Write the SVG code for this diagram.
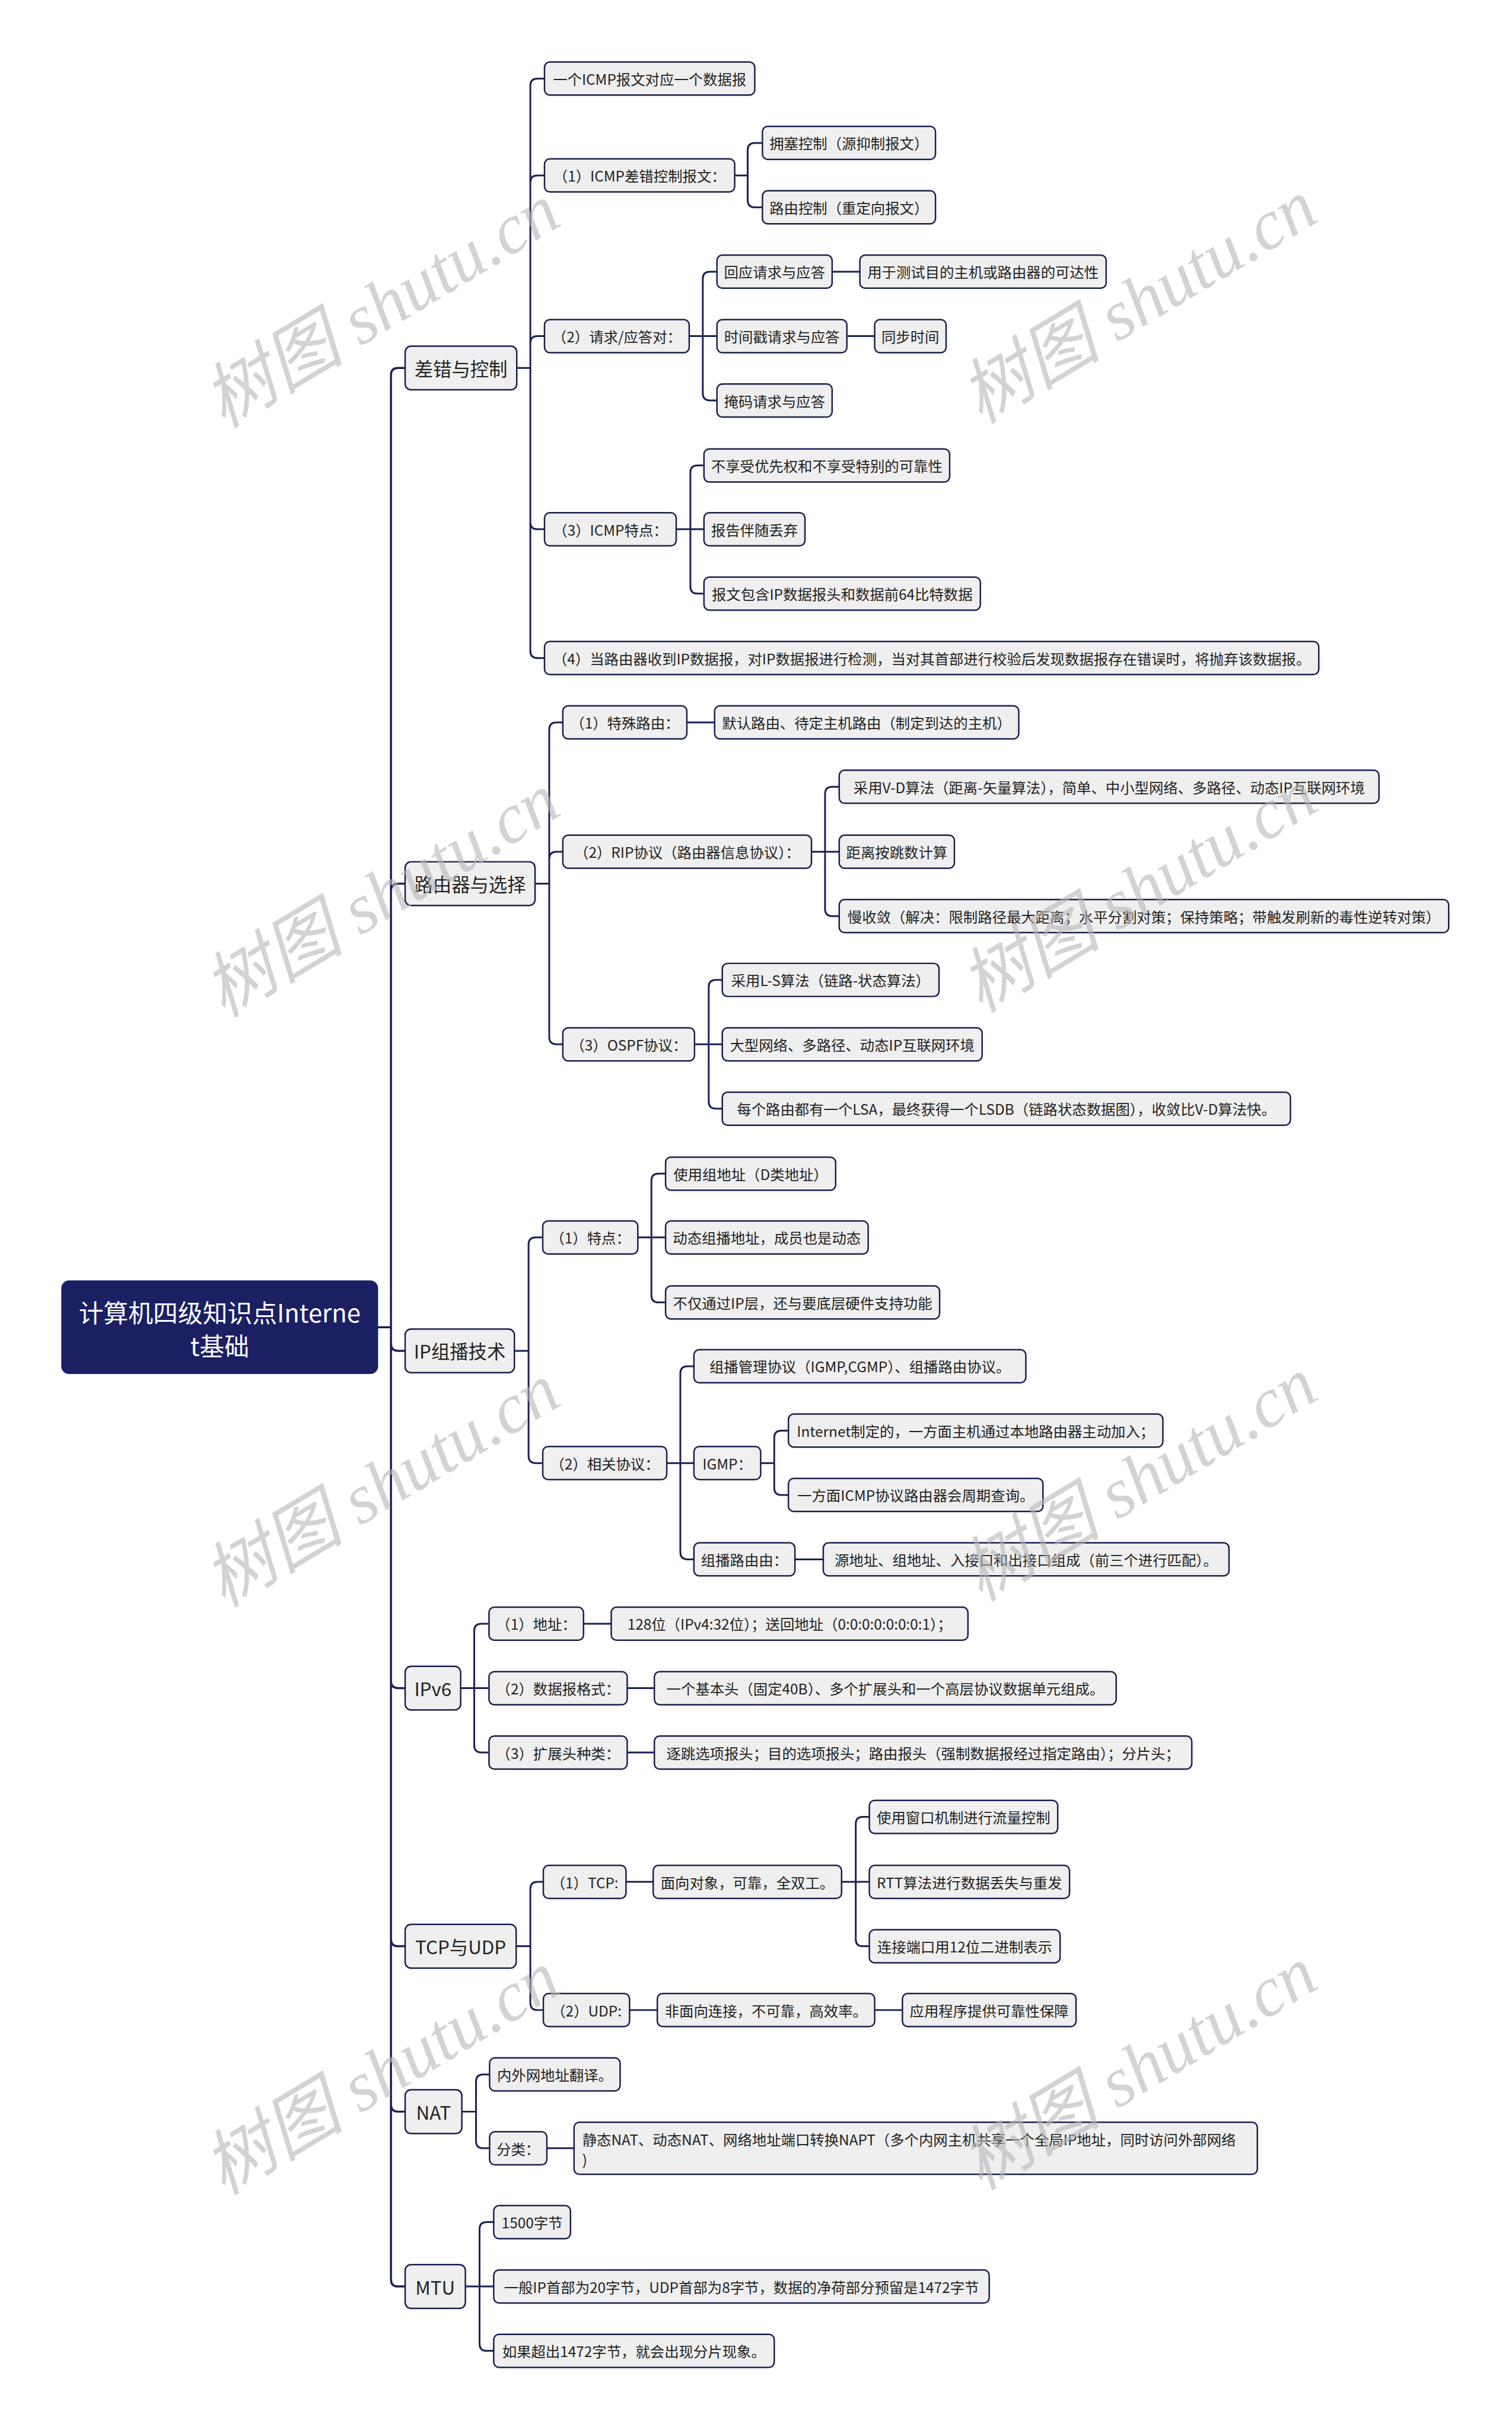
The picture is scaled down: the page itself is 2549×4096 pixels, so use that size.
<svg xmlns="http://www.w3.org/2000/svg" width="2549" height="4096" viewBox="0 0 2549 4096">
<style>
.n rect{fill:#efefef;stroke:#1b1f4d;stroke-width:2.5}
.n text{font-family:"Noto Sans CJK SC","Liberation Sans",sans-serif;font-size:24.5px;fill:#222;text-anchor:middle;dominant-baseline:central}
.l1 text{font-size:31.5px}
.root rect{fill:#1b2063;stroke:#1b2063}
.root text{fill:#fff;font-size:42px}
.c path{fill:none;stroke:#1b2058;stroke-width:3;stroke-linecap:round}
.c .m{stroke-width:3.5}
.wm text{font-family:"Liberation Serif","Noto Sans CJK SC",serif;font-style:italic;font-size:120px;fill:#b5b5b5;fill-opacity:0.6;text-anchor:middle;dominant-baseline:central}
</style>
<rect width="2549" height="4096" fill="#ffffff"/>
<g transform="scale(0.99563)">
<g id="connectors" class="c">
<path class="m" d="M639 2247 H662 M662 2247 V635 Q662 623 674 623 H686 M662 2247 V1508 Q662 1496 674 1496 H686 M662 2247 V2275 Q662 2287 674 2287 H686 M662 2247 V2846 Q662 2858 674 2858 H686 M662 2247 V3283 Q662 3295 674 3295 H686 M662 2247 V3563 Q662 3575 674 3575 H686 M662 2247 V3859 Q662 3871 674 3871 H686"/>
<path d="M875 623 H898 M898 623 V145 Q898 133 910 133 H922 M898 623 V309 Q898 297 910 297 H922 M898 623 V581 Q898 569 910 569 H922 M898 623 V884 Q898 896 910 896 H922 M898 623 V1102 Q898 1114 910 1114 H922"/>
<path d="M1244 297 H1266 M1266 297 V254 Q1266 242 1278 242 H1291 M1266 297 V339 Q1266 351 1278 351 H1291"/>
<path d="M1167 569 H1190 M1190 569 V472 Q1190 460 1202 460 H1214 M1190 569 H1214 M1190 569 V666 Q1190 678 1202 678 H1214 M1409 460 H1456 M1434 569 H1481"/>
<path d="M1145 896 H1169 M1169 896 V800 Q1169 788 1181 788 H1192 M1169 896 H1192 M1169 896 V993 Q1169 1005 1181 1005 H1192"/>
<path d="M906 1496 H930 M930 1496 V1235 Q930 1223 942 1223 H953 M930 1496 V1454 Q930 1442 942 1442 H953 M930 1496 V1756 Q930 1768 942 1768 H953 M1163 1223 H1210"/>
<path d="M1374 1442 H1397 M1397 1442 V1344 Q1397 1332 1409 1332 H1421 M1397 1442 H1421 M1397 1442 V1539 Q1397 1551 1409 1551 H1421"/>
<path d="M1176 1768 H1200 M1200 1768 V1671 Q1200 1659 1212 1659 H1223 M1200 1768 H1223 M1200 1768 V1865 Q1200 1877 1212 1877 H1223"/>
<path d="M871 2287 H895 M895 2287 V2107 Q895 2095 907 2095 H919 M895 2287 V2465 Q895 2477 907 2477 H919"/>
<path d="M1080 2095 H1103 M1103 2095 V1999 Q1103 1987 1115 1987 H1127 M1103 2095 H1127 M1103 2095 V2193 Q1103 2205 1115 2205 H1127"/>
<path d="M1129 2477 H1152 M1152 2477 V2325 Q1152 2313 1164 2313 H1175 M1152 2477 H1175 M1152 2477 V2628 Q1152 2640 1164 2640 H1175"/>
<path d="M1288 2477 H1311 M1311 2477 V2434 Q1311 2422 1323 2422 H1335 M1311 2477 V2519 Q1311 2531 1323 2531 H1335 M1346 2640 H1394"/>
<path d="M780 2858 H803 M803 2858 V2761 Q803 2749 815 2749 H828 M803 2858 H828 M803 2858 V2955 Q803 2967 815 2967 H828 M988 2749 H1035 M1062 2858 H1108 M1062 2967 H1108"/>
<path d="M874 3295 H898 M898 3295 V3198 Q898 3186 910 3186 H920 M898 3295 V3391 Q898 3403 910 3403 H920 M1060 3186 H1106 M1066 3403 H1113 M1481 3403 H1528"/>
<path d="M1425 3186 H1449 M1449 3186 V3088 Q1449 3076 1461 3076 H1472 M1449 3186 H1472 M1449 3186 V3283 Q1449 3295 1461 3295 H1472"/>
<path d="M782 3575 H806 M806 3575 V3524 Q806 3512 818 3512 H829 M806 3575 V3625 Q806 3637 818 3637 H829 M926 3637 H972"/>
<path d="M788 3871 H812 M812 3871 V3774 Q812 3762 824 3762 H836 M812 3871 H836 M812 3871 V3968 Q812 3980 824 3980 H836"/>
</g>
<g id="root" class="n root"><rect x="105" y="2169" width="534" height="156" rx="12"/><text x="372" y="2221">计算机四级知识点Interne</text><text x="372" y="2277">t基础</text></g>
<g id="n-err" class="n l1"><rect x="686" y="586" width="189" height="74" rx="10"/><text x="780.5" y="623">差错与控制</text></g>
<g id="n-route" class="n l1"><rect x="686" y="1459" width="220" height="74" rx="10"/><text x="796" y="1496">路由器与选择</text></g>
<g id="n-mc" class="n l1"><rect x="686" y="2250" width="185" height="74" rx="10"/><text x="778.5" y="2287">IP组播技术</text></g>
<g id="n-ipv6" class="n l1"><rect x="686" y="2821" width="94" height="74" rx="10"/><text x="733" y="2858">IPv6</text></g>
<g id="n-tcp" class="n l1"><rect x="686" y="3258" width="188" height="74" rx="10"/><text x="780" y="3295">TCP与UDP</text></g>
<g id="n-nat" class="n l1"><rect x="686" y="3538" width="96" height="74" rx="10"/><text x="734" y="3575">NAT</text></g>
<g id="n-mtu" class="n l1"><rect x="686" y="3834" width="102" height="74" rx="10"/><text x="737" y="3871">MTU</text></g>
<g id="a1" class="n"><rect x="922" y="105" width="356" height="56" rx="9"/><text x="1100" y="133">一个ICMP报文对应一个数据报</text></g>
<g id="a2" class="n"><rect x="922" y="269" width="322" height="56" rx="9"/><text x="1083" y="297">（1）ICMP差错控制报文：</text></g>
<g id="a2a" class="n"><rect x="1291" y="214" width="293" height="56" rx="9"/><text x="1437.5" y="242">拥塞控制（源抑制报文）</text></g>
<g id="a2b" class="n"><rect x="1291" y="323" width="293" height="56" rx="9"/><text x="1437.5" y="351">路由控制（重定向报文）</text></g>
<g id="a3" class="n"><rect x="922" y="541" width="245" height="56" rx="9"/><text x="1044.5" y="569">（2）请求/应答对：</text></g>
<g id="a3a" class="n"><rect x="1214" y="432" width="195" height="56" rx="9"/><text x="1311.5" y="460">回应请求与应答</text></g>
<g id="a3a1" class="n"><rect x="1456" y="432" width="417" height="56" rx="9"/><text x="1664.5" y="460">用于测试目的主机或路由器的可达性</text></g>
<g id="a3b" class="n"><rect x="1214" y="541" width="220" height="56" rx="9"/><text x="1324" y="569">时间戳请求与应答</text></g>
<g id="a3b1" class="n"><rect x="1481" y="541" width="121" height="56" rx="9"/><text x="1541.5" y="569">同步时间</text></g>
<g id="a3c" class="n"><rect x="1214" y="650" width="195" height="56" rx="9"/><text x="1311.5" y="678">掩码请求与应答</text></g>
<g id="a4" class="n"><rect x="922" y="868" width="223" height="56" rx="9"/><text x="1033.5" y="896">（3）ICMP特点：</text></g>
<g id="a4a" class="n"><rect x="1192" y="760" width="416" height="56" rx="9"/><text x="1400" y="788">不享受优先权和不享受特别的可靠性</text></g>
<g id="a4b" class="n"><rect x="1192" y="868" width="171" height="56" rx="9"/><text x="1277.5" y="896">报告伴随丢弃</text></g>
<g id="a4c" class="n"><rect x="1192" y="977" width="468" height="56" rx="9"/><text x="1426" y="1005">报文包含IP数据报头和数据前64比特数据</text></g>
<g id="a5" class="n"><rect x="922" y="1086" width="1311" height="56" rx="9"/><text x="1577.5" y="1114">（4）当路由器收到IP数据报，对IP数据报进行检测，当对其首部进行校验后发现数据报存在错误时，将抛弃该数据报。</text></g>
<g id="b1" class="n"><rect x="953" y="1195" width="210" height="56" rx="9"/><text x="1058" y="1223">（1）特殊路由：</text></g>
<g id="b1a" class="n"><rect x="1210" y="1195" width="515" height="56" rx="9"/><text x="1467.5" y="1223">默认路由、待定主机路由（制定到达的主机）</text></g>
<g id="b2" class="n"><rect x="953" y="1414" width="421" height="56" rx="9"/><text x="1163.5" y="1442">（2）RIP协议（路由器信息协议）：</text></g>
<g id="b2a" class="n"><rect x="1421" y="1304" width="914" height="56" rx="9"/><text x="1878" y="1332">采用V-D算法（距离-矢量算法），简单、中小型网络、多路径、动态IP互联网环境</text></g>
<g id="b2b" class="n"><rect x="1421" y="1414" width="195" height="56" rx="9"/><text x="1518.5" y="1442">距离按跳数计算</text></g>
<g id="b2c" class="n"><rect x="1421" y="1523" width="1032" height="56" rx="9"/><text x="1937" y="1551">慢收敛（解决：限制路径最大距离；水平分割对策；保持策略；带触发刷新的毒性逆转对策）</text></g>
<g id="b3" class="n"><rect x="953" y="1740" width="223" height="56" rx="9"/><text x="1064.5" y="1768">（3）OSPF协议：</text></g>
<g id="b3a" class="n"><rect x="1223" y="1631" width="367" height="56" rx="9"/><text x="1406.5" y="1659">采用L-S算法（链路-状态算法）</text></g>
<g id="b3b" class="n"><rect x="1223" y="1740" width="440" height="56" rx="9"/><text x="1443" y="1768">大型网络、多路径、动态IP互联网环境</text></g>
<g id="b3c" class="n"><rect x="1223" y="1849" width="962" height="56" rx="9"/><text x="1704" y="1877">每个路由都有一个LSA，最终获得一个LSDB（链路状态数据图），收敛比V-D算法快。</text></g>
<g id="c1" class="n"><rect x="919" y="2067" width="161" height="56" rx="9"/><text x="999.5" y="2095">（1）特点：</text></g>
<g id="c1a" class="n"><rect x="1127" y="1959" width="288" height="56" rx="9"/><text x="1271" y="1987">使用组地址（D类地址）</text></g>
<g id="c1b" class="n"><rect x="1127" y="2067" width="343" height="56" rx="9"/><text x="1298.5" y="2095">动态组播地址，成员也是动态</text></g>
<g id="c1c" class="n"><rect x="1127" y="2177" width="464" height="56" rx="9"/><text x="1359" y="2205">不仅通过IP层，还与要底层硬件支持功能</text></g>
<g id="c2" class="n"><rect x="919" y="2449" width="210" height="56" rx="9"/><text x="1024" y="2477">（2）相关协议：</text></g>
<g id="c2a" class="n"><rect x="1175" y="2285" width="562" height="56" rx="9"/><text x="1456" y="2313">组播管理协议（IGMP,CGMP）、组播路由协议。</text></g>
<g id="c2b" class="n"><rect x="1175" y="2449" width="113" height="56" rx="9"/><text x="1231.5" y="2477">IGMP：</text></g>
<g id="c2b1" class="n"><rect x="1335" y="2394" width="634" height="56" rx="9"/><text x="1652" y="2422">Internet制定的，一方面主机通过本地路由器主动加入；</text></g>
<g id="c2b2" class="n"><rect x="1335" y="2503" width="431" height="56" rx="9"/><text x="1550.5" y="2531">一方面ICMP协议路由器会周期查询。</text></g>
<g id="c2c" class="n"><rect x="1175" y="2612" width="171" height="56" rx="9"/><text x="1260.5" y="2640">组播路由由：</text></g>
<g id="c2c1" class="n"><rect x="1394" y="2612" width="687" height="56" rx="9"/><text x="1737.5" y="2640">源地址、组地址、入接口和出接口组成（前三个进行匹配）。</text></g>
<g id="d1" class="n"><rect x="828" y="2721" width="160" height="56" rx="9"/><text x="908" y="2749">（1）地址：</text></g>
<g id="d1a" class="n"><rect x="1035" y="2721" width="604" height="56" rx="9"/><text x="1337" y="2749">128位（IPv4:32位）；送回地址（0:0:0:0:0:0:0:1）；</text></g>
<g id="d2" class="n"><rect x="828" y="2830" width="234" height="56" rx="9"/><text x="945" y="2858">（2）数据报格式：</text></g>
<g id="d2a" class="n"><rect x="1108" y="2830" width="782" height="56" rx="9"/><text x="1499" y="2858">一个基本头（固定40B）、多个扩展头和一个高层协议数据单元组成。</text></g>
<g id="d3" class="n"><rect x="828" y="2939" width="234" height="56" rx="9"/><text x="945" y="2967">（3）扩展头种类：</text></g>
<g id="d3a" class="n"><rect x="1108" y="2939" width="910" height="56" rx="9"/><text x="1563" y="2967">逐跳选项报头；目的选项报头；路由报头（强制数据报经过指定路由）；分片头；</text></g>
<g id="e1" class="n"><rect x="920" y="3158" width="140" height="56" rx="9"/><text x="990" y="3186">（1）TCP:</text></g>
<g id="e1a" class="n"><rect x="1106" y="3158" width="319" height="56" rx="9"/><text x="1265.5" y="3186">面向对象，可靠，全双工。</text></g>
<g id="e1a1" class="n"><rect x="1472" y="3048" width="319" height="56" rx="9"/><text x="1631.5" y="3076">使用窗口机制进行流量控制</text></g>
<g id="e1a2" class="n"><rect x="1472" y="3158" width="339" height="56" rx="9"/><text x="1641.5" y="3186">RTT算法进行数据丢失与重发</text></g>
<g id="e1a3" class="n"><rect x="1472" y="3267" width="323" height="56" rx="9"/><text x="1633.5" y="3295">连接端口用12位二进制表示</text></g>
<g id="e2" class="n"><rect x="920" y="3375" width="146" height="56" rx="9"/><text x="993" y="3403">（2）UDP:</text></g>
<g id="e2a" class="n"><rect x="1113" y="3375" width="368" height="56" rx="9"/><text x="1297" y="3403">非面向连接，不可靠，高效率。</text></g>
<g id="e2a1" class="n"><rect x="1528" y="3375" width="294" height="56" rx="9"/><text x="1675" y="3403">应用程序提供可靠性保障</text></g>
<g id="f1" class="n"><rect x="829" y="3484" width="221" height="56" rx="9"/><text x="939.5" y="3512">内外网地址翻译。</text></g>
<g id="f2" class="n"><rect x="829" y="3609" width="97" height="56" rx="9"/><text x="877.5" y="3637">分类：</text></g>
<g id="f2a" class="n"><rect x="972" y="3593" width="1157" height="88" rx="9"/><text x="986" y="3621" style="text-anchor:start">静态NAT、动态NAT、网络地址端口转换NAPT（多个内网主机共享一个全局IP地址，同时访问外部网络</text><text x="986" y="3655" style="text-anchor:start">)</text></g>
<g id="g1" class="n"><rect x="836" y="3734" width="130" height="56" rx="9"/><text x="901" y="3762">1500字节</text></g>
<g id="g2" class="n"><rect x="836" y="3843" width="839" height="56" rx="9"/><text x="1255.5" y="3871">一般IP首部为20字节，UDP首部为8字节，数据的净荷部分预留是1472字节</text></g>
<g id="g3" class="n"><rect x="836" y="3952" width="475" height="56" rx="9"/><text x="1073.5" y="3980">如果超出1472字节，就会出现分片现象。</text></g>
<g id="watermark" class="wm">
<text transform="translate(646 518) rotate(-31)">树图 shutu.cn</text>
<text transform="translate(1928 511) rotate(-31)">树图 shutu.cn</text>
<text transform="translate(646 1516) rotate(-31)">树图 shutu.cn</text>
<text transform="translate(1928 1508) rotate(-31)">树图 shutu.cn</text>
<text transform="translate(646 2515) rotate(-31)">树图 shutu.cn</text>
<text transform="translate(1928 2505) rotate(-31)">树图 shutu.cn</text>
<text transform="translate(646 3510) rotate(-31)">树图 shutu.cn</text>
<text transform="translate(1928 3502) rotate(-31)">树图 shutu.cn</text>
</g>
</g>
</svg>
